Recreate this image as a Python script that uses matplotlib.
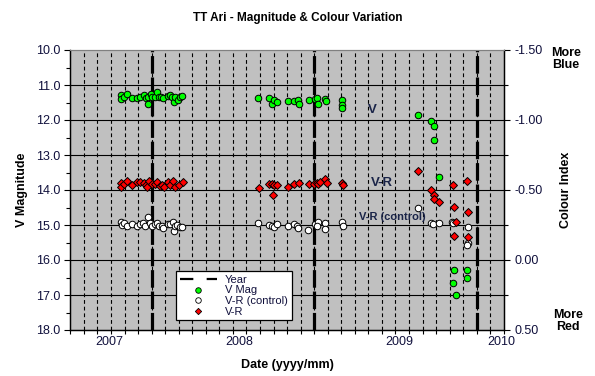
import matplotlib.pyplot as plt
import numpy as np
from matplotlib.lines import Line2D

plt.rcParams['font.family'] = ['Liberation Sans', 'DejaVu Sans']

# V magnitude (green)
v_date = [2007.090, 2007.092, 2007.118, 2007.138, 2007.177, 2007.218, 2007.238, 2007.269,
          2007.285, 2007.298, 2007.302, 2007.321, 2007.331, 2007.352, 2007.367, 2007.382,
          2007.398, 2007.418, 2007.452, 2007.469, 2007.487, 2007.500, 2007.508, 2007.528,
          2007.546, 2007.564,
          2008.144, 2008.228, 2008.256, 2008.269, 2008.292, 2008.375, 2008.423, 2008.452,
          2008.462, 2008.536, 2008.582, 2008.602, 2008.605, 2008.659, 2008.672, 2008.792,
          2008.792, 2008.792,
          2009.375, 2009.475, 2009.498, 2009.498, 2009.536, 2009.652, 2009.754, 2009.756,
          2009.646, 2009.669]
v_mag = [11.29, 11.41, 11.33, 11.27, 11.37, 11.36, 11.33, 11.28,
         11.36, 11.53, 11.35, 11.25, 11.33, 11.33, 11.21, 11.35,
         11.34, 11.38, 11.31, 11.29, 11.35, 11.48, 11.33, 11.43,
         11.33, 11.31,
         11.36, 11.36, 11.53, 11.43, 11.49, 11.46, 11.47, 11.42,
         11.54, 11.43, 11.40, 11.37, 11.53, 11.39, 11.46, 11.43,
         11.56, 11.65,
         11.85, 12.02, 12.16, 12.58, 13.62, 16.29, 16.29, 16.51,
         16.66, 17.00]

# V-R of TT Ari (red)
vr_date = [2007.092, 2007.095, 2007.115, 2007.138, 2007.179, 2007.218, 2007.238, 2007.269,
           2007.285, 2007.295, 2007.310, 2007.328, 2007.354, 2007.369, 2007.390, 2007.405,
           2007.423, 2007.454, 2007.469, 2007.495, 2007.510, 2007.536, 2007.567,
           2008.152, 2008.228, 2008.252, 2008.264, 2008.272, 2008.295, 2008.379, 2008.425,
           2008.464, 2008.541, 2008.579, 2008.598, 2008.610, 2008.623, 2008.659, 2008.675,
           2008.792, 2008.800,
           2009.379, 2009.477, 2009.500, 2009.502, 2009.538, 2009.648, 2009.756, 2009.656,
           2009.764, 2009.669, 2009.652, 2009.762]
vr_ci = [-0.552, -0.524, -0.543, -0.564, -0.536, -0.559, -0.555, -0.548,
         -0.534, -0.524, -0.566, -0.543, -0.541, -0.559, -0.526, -0.536,
         -0.524, -0.559, -0.536, -0.564, -0.524, -0.536, -0.559,
         -0.517, -0.543, -0.543, -0.464, -0.538, -0.538, -0.524, -0.543,
         -0.552, -0.543, -0.543, -0.552, -0.543, -0.557, -0.576, -0.552,
         -0.552, -0.536,
         -0.636, -0.500, -0.464, -0.434, -0.412, -0.534, -0.562, -0.381,
         -0.341, -0.269, -0.169, -0.162]

# V-R of control star (white)
ctl_date = [2007.092, 2007.098, 2007.118, 2007.136, 2007.179, 2007.213, 2007.238, 2007.264,
            2007.279, 2007.302, 2007.315, 2007.331, 2007.354, 2007.367, 2007.382, 2007.405,
            2007.418, 2007.452, 2007.469, 2007.490, 2007.502, 2007.508, 2007.525, 2007.546,
            2007.564,
            2008.144, 2008.228, 2008.252, 2008.269, 2008.292, 2008.375, 2008.423, 2008.446,
            2008.456, 2008.533, 2008.585, 2008.605, 2008.602, 2008.664, 2008.664, 2008.792,
            2008.800,
            2009.379, 2009.477, 2009.495, 2009.538, 2009.641, 2009.648, 2009.762, 2009.759,
            2009.752]
ctl_ci = [-0.269, -0.250, -0.262, -0.243, -0.257, -0.243, -0.255, -0.262,
          -0.243, -0.310, -0.262, -0.245, -0.255, -0.267, -0.245, -0.245,
          -0.226, -0.257, -0.257, -0.274, -0.207, -0.243, -0.250, -0.238,
          -0.238,
          -0.267, -0.248, -0.245, -0.233, -0.260, -0.245, -0.257, -0.243,
          -0.226, -0.214, -0.255, -0.269, -0.243, -0.262, -0.221, -0.274,
          -0.243,
          -0.374, -0.262, -0.255, -0.267, -0.274, -0.262, -0.238, -0.119,
          -0.107]

year_lines = [2007.328, 2008.578, 2009.828]
year_ticks = [2007.0, 2008.0, 2009.23, 2010.02]
year_labels = ['2007', '2008', '2009', '2010']

xmin, xmax = 2006.703, 2010.037
tick_col = '#10103c'
ann_col = '#1a2448'

fig = plt.figure(figsize=(5.95, 3.76), dpi=100)
ax = fig.add_axes([70.4/595, 1-330/376, 433.4/595, 280/376])
ax.set_facecolor('#c0c0c0')
ax2 = ax.twinx()

# grid
grid_x = np.linspace(xmin, xmax, 33)
for gx in grid_x[1:-1]:
    ax.axvline(gx, color='black', lw=0.8, dashes=(3.4, 2.6), zorder=1)
for gy in range(11, 18):
    ax.axhline(gy, color='black', lw=0.8, zorder=1)
for yl in year_lines:
    ax.axvline(yl, color='black', lw=2.3, dashes=(5.5, 1.2), zorder=2)

ax.plot(v_date, v_mag, 'o', ms=4.7, mfc='#00ff00', mec='black', mew=0.7, zorder=3)
ax2.plot(ctl_date, ctl_ci, 'o', ms=4.7, mfc='white', mec='black', mew=0.7, zorder=3)
ax2.plot(vr_date, vr_ci, 'D', ms=3.9, mfc='#ff0000', mec='black', mew=0.7, zorder=4)

ax.set_xlim(xmin, xmax)
ax.set_ylim(18, 10)
ax2.set_ylim(0.5, -1.5)

ax.set_yticks(np.arange(10, 18.1, 1))
ax.set_yticklabels([f'{v:.1f}' for v in np.arange(10, 18.1, 1)])
ax.set_yticks(np.arange(10.5, 18, 1), minor=True)
ax2.set_yticks(np.arange(-1.5, 0.51, 0.5))
ax2.set_yticklabels([f'{v:.2f}' for v in np.arange(-1.5, 0.51, 0.5)])
ax2.set_yticks(np.arange(-1.25, 0.5, 0.5), minor=True)

ax.set_xticks(year_ticks)
ax.set_xticklabels(year_labels)
ax.set_xticks(grid_x, minor=True)

ax.tick_params(axis='x', which='major', length=0, pad=4, labelsize=9, labelcolor=tick_col)
ax.tick_params(axis='x', which='minor', length=3, width=0.8, direction='out')
ax.tick_params(axis='y', which='both', direction='out', width=0.8, labelsize=9,
               labelcolor=tick_col, pad=3)
ax.tick_params(axis='y', which='major', length=4)
ax.tick_params(axis='y', which='minor', length=3)
ax2.tick_params(axis='y', which='both', direction='out', width=0.8, labelsize=9,
                labelcolor=tick_col, pad=4)
ax2.tick_params(axis='y', which='major', length=4)
ax2.tick_params(axis='y', which='minor', length=3)

for a in (ax, ax2):
    a.spines['top'].set_color('#808080')
    for s in ('left', 'right', 'bottom'):
        a.spines[s].set_linewidth(0.9)

ax.set_ylabel('V Magnitude', fontsize=9, fontweight='bold', labelpad=6)
ax2.set_ylabel('Colour Index', fontsize=9, fontweight='bold', labelpad=12)
ax.set_xlabel('Date (yyyy/mm)', fontsize=9, fontweight='bold', labelpad=8)
fig.text(0.5, 1-18/376, 'TT Ari - Magnitude & Colour Variation', ha='center', va='center',
         fontsize=8.5, fontweight='bold')
fig.text(566/595, 1-59/376, 'More\nBlue', ha='center', va='center', fontsize=9,
         fontweight='bold', linespacing=1.0)
fig.text(568/595, 1-321/376, 'More\nRed', ha='center', va='center', fontsize=9,
         fontweight='bold', linespacing=1.0)

ax.text(2009.029, 11.71, 'V', ha='center', va='center', fontsize=9.5, fontweight='bold',
        color=ann_col, zorder=5)
ax.text(2009.10, 13.80, 'V-R', ha='center', va='center', fontsize=9.5, fontweight='bold',
        color=ann_col, zorder=5)
ax.text(2009.181, 14.76, 'V-R (control)', ha='center', va='center', fontsize=8,
        fontweight='bold', color=ann_col, zorder=5)

handles = [Line2D([], [], color='black', lw=1.6, dashes=(6, 6)),
           Line2D([], [], ls='none', marker='o', ms=4, mfc='#00ff00', mec='black', mew=0.6),
           Line2D([], [], ls='none', marker='o', ms=4, mfc='white', mec='black', mew=0.6),
           Line2D([], [], ls='none', marker='D', ms=3.2, mfc='#ff0000', mec='black', mew=0.6)]
leg = ax2.legend(handles, ['Year', 'V Mag', 'V-R (control)', 'V-R'],
                 loc='lower left', bbox_to_anchor=(0.243, 0.034), fontsize=8,
                 frameon=True, fancybox=False, edgecolor='black', framealpha=1,
                 handlelength=3.4, handletextpad=0.7, labelspacing=0.05,
                 borderpad=0.35, borderaxespad=0)
leg.get_frame().set_linewidth(0.9)
for t in leg.get_texts():
    t.set_color(tick_col)

fig.savefig('out.png', dpi=100)
